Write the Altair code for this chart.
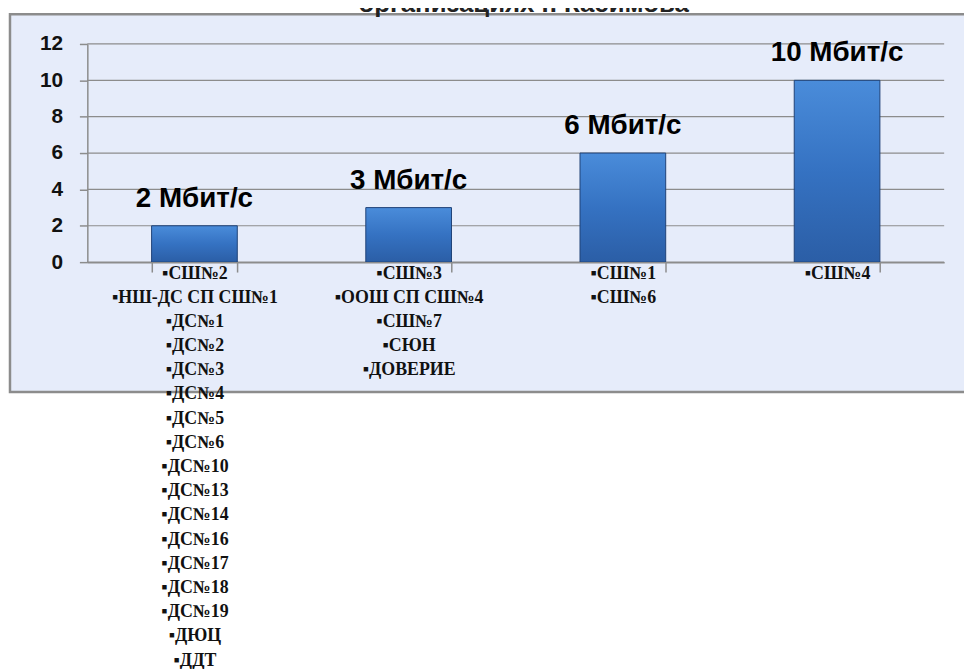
import altair as alt
import pandas as pd

# ---- data ----
category_lines = [
    ["▪СШ№2", "▪НШ-ДС СП СШ№1", "▪ДС№1", "▪ДС№2", "▪ДС№3", "▪ДС№4", "▪ДС№5",
     "▪ДС№6", "▪ДС№10", "▪ДС№13", "▪ДС№14", "▪ДС№16", "▪ДС№17", "▪ДС№18",
     "▪ДС№19", "▪ДЮЦ", "▪ДДТ"],
    ["▪СШ№3", "▪ООШ СП СШ№4", "▪СШ№7", "▪СЮН", "▪ДОВЕРИЕ"],
    ["▪СШ№1", "▪СШ№6"],
    ["▪СШ№4"],
]
values = [2, 3, 6, 10]
value_labels = ["2 Мбит/с", "3 Мбит/с", "6 Мбит/с", "10 Мбит/с"]
y_ticks = [0, 2, 4, 6, 8, 10, 12]
title_text = "организациях г. Касимова"

cats = ["|".join(lines) for lines in category_lines]
df = pd.DataFrame({"cat": cats, "value": values, "label": value_labels})
grid_df = pd.DataFrame({"value": y_ticks})
one = pd.DataFrame({"a": [0]})

W, H = 864, 220
GRAY = "#8C8C8C"

xenc = alt.X(
    "cat:N", sort=cats,
    scale=alt.Scale(paddingInner=0.6, paddingOuter=0.3),
    axis=alt.Axis(
        title=None, labelAngle=0, labelExpr="split(datum.label, '|')",
        labelFont="Liberation Serif", labelFontWeight="bold", labelFontSize=18,
        labelLineHeight=24.4, labelColor="#111111", labelLimit=400,
        labelOverlap=False, labelBaseline="top", labelPadding=-8,
        tickBand="extent", tickSize=10, tickColor=GRAY, tickWidth=1.5,
        domainColor=GRAY, domainWidth=1.5, zindex=1,
    ),
)
yaxis = alt.Axis(
    values=y_ticks, title=None, grid=False,
    labelFont="Liberation Sans", labelFontWeight="bold", labelFontSize=21,
    labelColor="#111111", labelPadding=17,
    tickSize=8, tickColor=GRAY, tickWidth=1.5,
    domainColor=GRAY, domainWidth=1.5, zindex=1,
)
yscale = alt.Scale(domain=[0, 12])

frame = alt.Chart(one).mark_rect(
    fill="#E6ECFA", stroke=GRAY, strokeWidth=2.5
).encode(
    x=alt.value(-78), x2=alt.value(900), y=alt.value(-30), y2=alt.value(351)
)

title = alt.Chart(one).mark_text(
    text=title_text, font="Liberation Sans", fontWeight="bold", fontSize=26,
    color="#222222", baseline="alphabetic", align="center"
).encode(x=alt.value(440), y=alt.value(-32))

grid = alt.Chart(grid_df).mark_rule(color=GRAY, strokeWidth=1.2).encode(
    y=alt.Y("value:Q", scale=yscale, axis=yaxis)
)

bar_fill = alt.Gradient(
    gradient="linear",
    stops=[alt.GradientStop(color="#4A8CDA", offset=0),
           alt.GradientStop(color="#3572C2", offset=0.5),
           alt.GradientStop(color="#2B5EA6", offset=1)],
    x1=0, x2=0, y1=0, y2=1,
)
bars = alt.Chart(df).mark_bar(
    color=bar_fill, stroke="#1F4276", strokeWidth=1
).encode(x=xenc, y=alt.Y("value:Q", scale=yscale, axis=yaxis))

texts = alt.Chart(df).mark_text(
    font="Liberation Sans", fontWeight="bold", fontSize=28, color="#000000",
    baseline="alphabetic", dy=-19
).encode(x=alt.X("cat:N", sort=cats), y=alt.Y("value:Q", scale=yscale, axis=yaxis),
         text="label:N")

chart = alt.layer(frame, title, grid, bars, texts).properties(
    width=W, height=H, autosize="none",
    padding={"left": 80, "top": 33.5, "right": 20, "bottom": 407.5},
    background="#FFFFFF",
).configure_view(stroke=None)

chart.save("out.html", embed_options={"renderer": "svg", "actions": False})
